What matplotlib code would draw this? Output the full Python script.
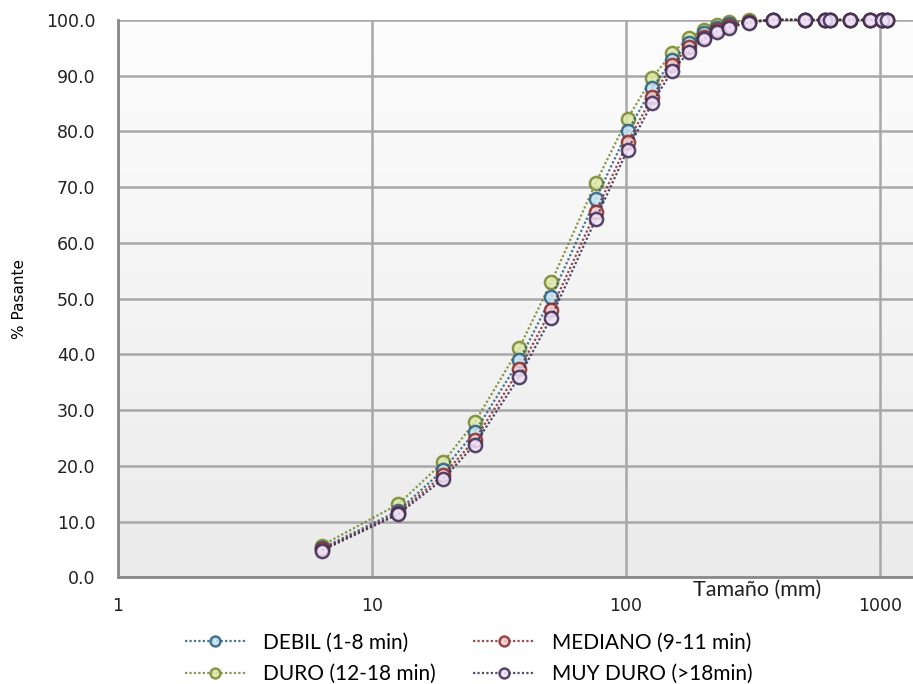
import numpy as np
import matplotlib
matplotlib.use("Agg")
import matplotlib.pyplot as plt
from matplotlib import font_manager
from matplotlib.colors import LinearSegmentedColormap

# tamaños de malla (mm)
sizes = [6.35, 12.7, 19.05, 25.4, 38.1, 50.8, 76.2, 101.6, 127, 152.4, 177.8,
         203.2, 228.6, 254, 304.8, 381, 508, 609.6, 635, 762, 914.4, 1016, 1066.8]

# % pasante por dureza
debil    = [5.2, 11.9, 19.2, 26.0, 38.9, 50.2, 67.9, 80.0, 87.8, 92.8, 95.8,
            97.6, 98.6, 99.2, 99.7, 100, 100, 100, 100, 100, 100, 100, 100]
mediano  = [5.0, 11.5, 18.3, 24.6, 37.3, 48.0, 65.6, 78.0, 86.2, 91.9, 95.2,
            97.0, 98.1, 98.9, 99.6, 100, 100, 100, 100, 100, 100, 100, 100]
duro     = [5.7, 13.1, 20.6, 27.8, 41.2, 52.9, 70.8, 82.3, 89.6, 94.1, 96.8,
            98.2, 99.1, 99.6, 99.9, 100, 100, 100, 100, 100, 100, 100, 100]
muy_duro = [4.8, 11.3, 17.6, 23.8, 36.0, 46.6, 64.3, 76.7, 85.1, 90.9, 94.3,
            96.6, 97.8, 98.6, 99.5, 100, 100, 100, 100, 100, 100, 100, 100]

labels = ["DEBIL (1-8 min)", "MEDIANO (9-11 min)", "DURO (12-18 min)", "MUY DURO (>18min)"]
series = [debil, mediano, duro, muy_duro]
fills = ["#c3e4f2", "#f6cccc", "#dfe8a8", "#efe2fa"]
edges = ["#2b5d7e", "#8a2b2b", "#76862e", "#3a2950"]
zord = [4, 5, 3, 6]

# fuente angosta para el titulo del eje y, si existe
try:
    font_manager.findfont("Liberation Sans Narrow", fallback_to_default=False)
    ylab_font, ylab_size = "Liberation Sans Narrow", 13.5
except Exception:
    ylab_font, ylab_size = "DejaVu Sans", 11

fig = plt.figure(figsize=(9.13, 6.84), dpi=100)
ax = fig.add_axes([0.129, 0.156, 0.871, 0.815])

# fondo degradado
cmap = LinearSegmentedColormap.from_list("bg", ["#ebebeb", "#fdfdfd"])
grad = np.linspace(0, 1, 256).reshape(-1, 1)
ax.imshow(grad, cmap=cmap, aspect="auto", extent=[0, 1, 0, 1], origin="lower",
          transform=ax.transAxes, zorder=0)

handles = {}
for lab, y, fc, ec, z in zip(labels, series, fills, edges, zord):
    h, = ax.plot(sizes, y, linestyle=(0, (1, 1)), linewidth=1.6, color=ec, alpha=0.85,
                 marker="o", markersize=9.5, markerfacecolor=fc, markeredgecolor=ec,
                 markeredgewidth=1.8, label=lab, zorder=z, clip_on=False)
    handles[lab] = h

ax.set_xscale("log")
ax.set_xlim(1, 1350)
ax.set_ylim(0, 100)
ax.set_yticks(np.arange(0, 101, 10))
ax.set_yticklabels([f"{v:.1f}" for v in np.arange(0, 101, 10)], fontsize=12.5, color="#222222")
ax.set_xticks([1, 10, 100, 1000])
ax.set_xticklabels(["1", "10", "100", "1000"], fontsize=12.5, color="#222222")
ax.minorticks_off()
ax.tick_params(axis="x", length=0, pad=14)
ax.tick_params(axis="y", length=0, pad=16)

ax.grid(True, color="#a8a8a8", linewidth=1.8)
ax.set_axisbelow(True)
for s in ["top", "right"]:
    ax.spines[s].set_visible(False)
for s in ["left", "bottom"]:
    ax.spines[s].set_color("#8a8a8a")
    ax.spines[s].set_linewidth(2)

ax.set_ylabel("% Pasante", fontsize=ylab_size, family=ylab_font, labelpad=14)
ax.text(0.804, -0.004, "Tamaño (mm)", transform=ax.transAxes, ha="center", va="top",
        fontsize=15.5, family="Lato", color="#222222")

order = [labels[0], labels[2], labels[1], labels[3]]
leg = fig.legend([handles[l] for l in order], order, ncol=2, loc="center left",
                 bbox_to_anchor=(185 / 913, 1 - 658.5 / 684), frameon=False,
                 prop={"family": "Lato", "size": 15}, borderpad=0, borderaxespad=0,
                 handlelength=2.9, columnspacing=1.8, labelspacing=0.55, handletextpad=0.85,
                 markerscale=0.75)

fig.savefig("out.png", dpi=100)
